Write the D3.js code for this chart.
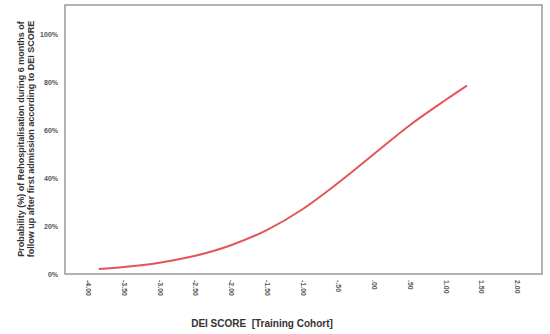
<!DOCTYPE html>
<html><head><meta charset="utf-8">
<script src="https://cdn.jsdelivr.net/npm/d3@7"></script>
<style>body{margin:0;background:#fff}svg{display:block}</style>
</head><body><svg id="c" width="550" height="334"></svg>
<script>
const scoreValues = [-3.85, -3.5, -3.0, -2.5, -2.0, -1.5, -1.0, -0.5, 0.0, 0.5, 1.0, 1.3];
const probValues  = [0.021, 0.029, 0.047, 0.076, 0.120, 0.183, 0.270, 0.380, 0.500, 0.620, 0.725, 0.785];
const xTicks = [-4, -3.5, -3, -2.5, -2, -1.5, -1, -0.5, 0, 0.5, 1, 1.5, 2];
const xTickLabels = ["-4.00","-3.50","-3.00","-2.50","-2.00","-1.50","-1.00","-.50",".00",".50","1.00","1.50","2.00"];
const yTicks = [0, 0.2, 0.4, 0.6, 0.8, 1.0];
const yTickLabels = ["0%","20%","40%","60%","80%","100%"];
const xTitle = "DEI SCORE  [Training Cohort]";
const yTitleLines = ["Probability (%) of Rehospitalisation during 6 months of", "follow up after first admission according to DEI SCORE"];

const svg = d3.select("#c");
const L = 65, R = 542, T = 5, B = 274;
const x = d3.scaleLinear().domain([-4.322, 2.35]).range([L, R]);
const y = d3.scaleLinear().domain([0, 1.121]).range([B, T]);

svg.append("rect").attr("x", L).attr("y", T).attr("width", R - L).attr("height", B - T)
  .attr("fill", "#fff").attr("stroke", "#999").attr("stroke-width", 1.5);

const labelColor = "#555";
// y axis labels
const yAxis = d3.axisLeft(y).tickValues(yTicks).tickSize(0).tickPadding(7)
  .tickFormat((d, i) => yTickLabels[i]);
const gy = svg.append("g").attr("transform", `translate(${L},0)`).call(yAxis);
gy.select(".domain").remove();
gy.selectAll("text").attr("font-family", "Liberation Sans, Arial, sans-serif")
  .attr("font-size", 7).attr("font-weight", "bold").attr("fill", labelColor);

// x axis labels rotated
const xAxis = d3.axisBottom(x).tickValues(xTicks).tickSize(0).tickPadding(0)
  .tickFormat((d, i) => xTickLabels[i]);
const gx = svg.append("g").attr("transform", `translate(0,${B})`).call(xAxis);
gx.select(".domain").remove();
gx.selectAll("text").attr("font-family", "Liberation Sans, Arial, sans-serif")
  .attr("font-size", 7).attr("font-weight", "bold").attr("fill", labelColor)
  .attr("transform", "translate(0,6) rotate(90)")
  .attr("text-anchor", "start").attr("x", 0).attr("y", 0).attr("dy", "0.35em");

// curve
const pts = scoreValues.map((s, i) => [s, probValues[i]]);
svg.append("path").datum(pts)
  .attr("d", d3.line().x(d => x(d[0])).y(d => y(d[1])).curve(d3.curveMonotoneX))
  .attr("fill", "none").attr("stroke", "#e4555a").attr("stroke-width", 2);

// titles
svg.append("text").attr("x", 262).attr("y", 327).attr("text-anchor", "middle")
  .attr("font-family", "Liberation Sans, Arial, sans-serif").attr("font-size", 10)
  .attr("font-weight", "bold").attr("fill", "#333").style("white-space", "pre").text(xTitle);

const yt = svg.append("text").attr("transform", "translate(24,139) rotate(-90)")
  .attr("text-anchor", "middle").attr("font-family", "Liberation Sans, Arial, sans-serif")
  .attr("font-size", 9).attr("font-weight", "bold").attr("fill", "#333");
yTitleLines.forEach((t, i) => yt.append("tspan").attr("x", 0).attr("dy", i === 0 ? 0 : 10).text(t));
</script></body></html>
